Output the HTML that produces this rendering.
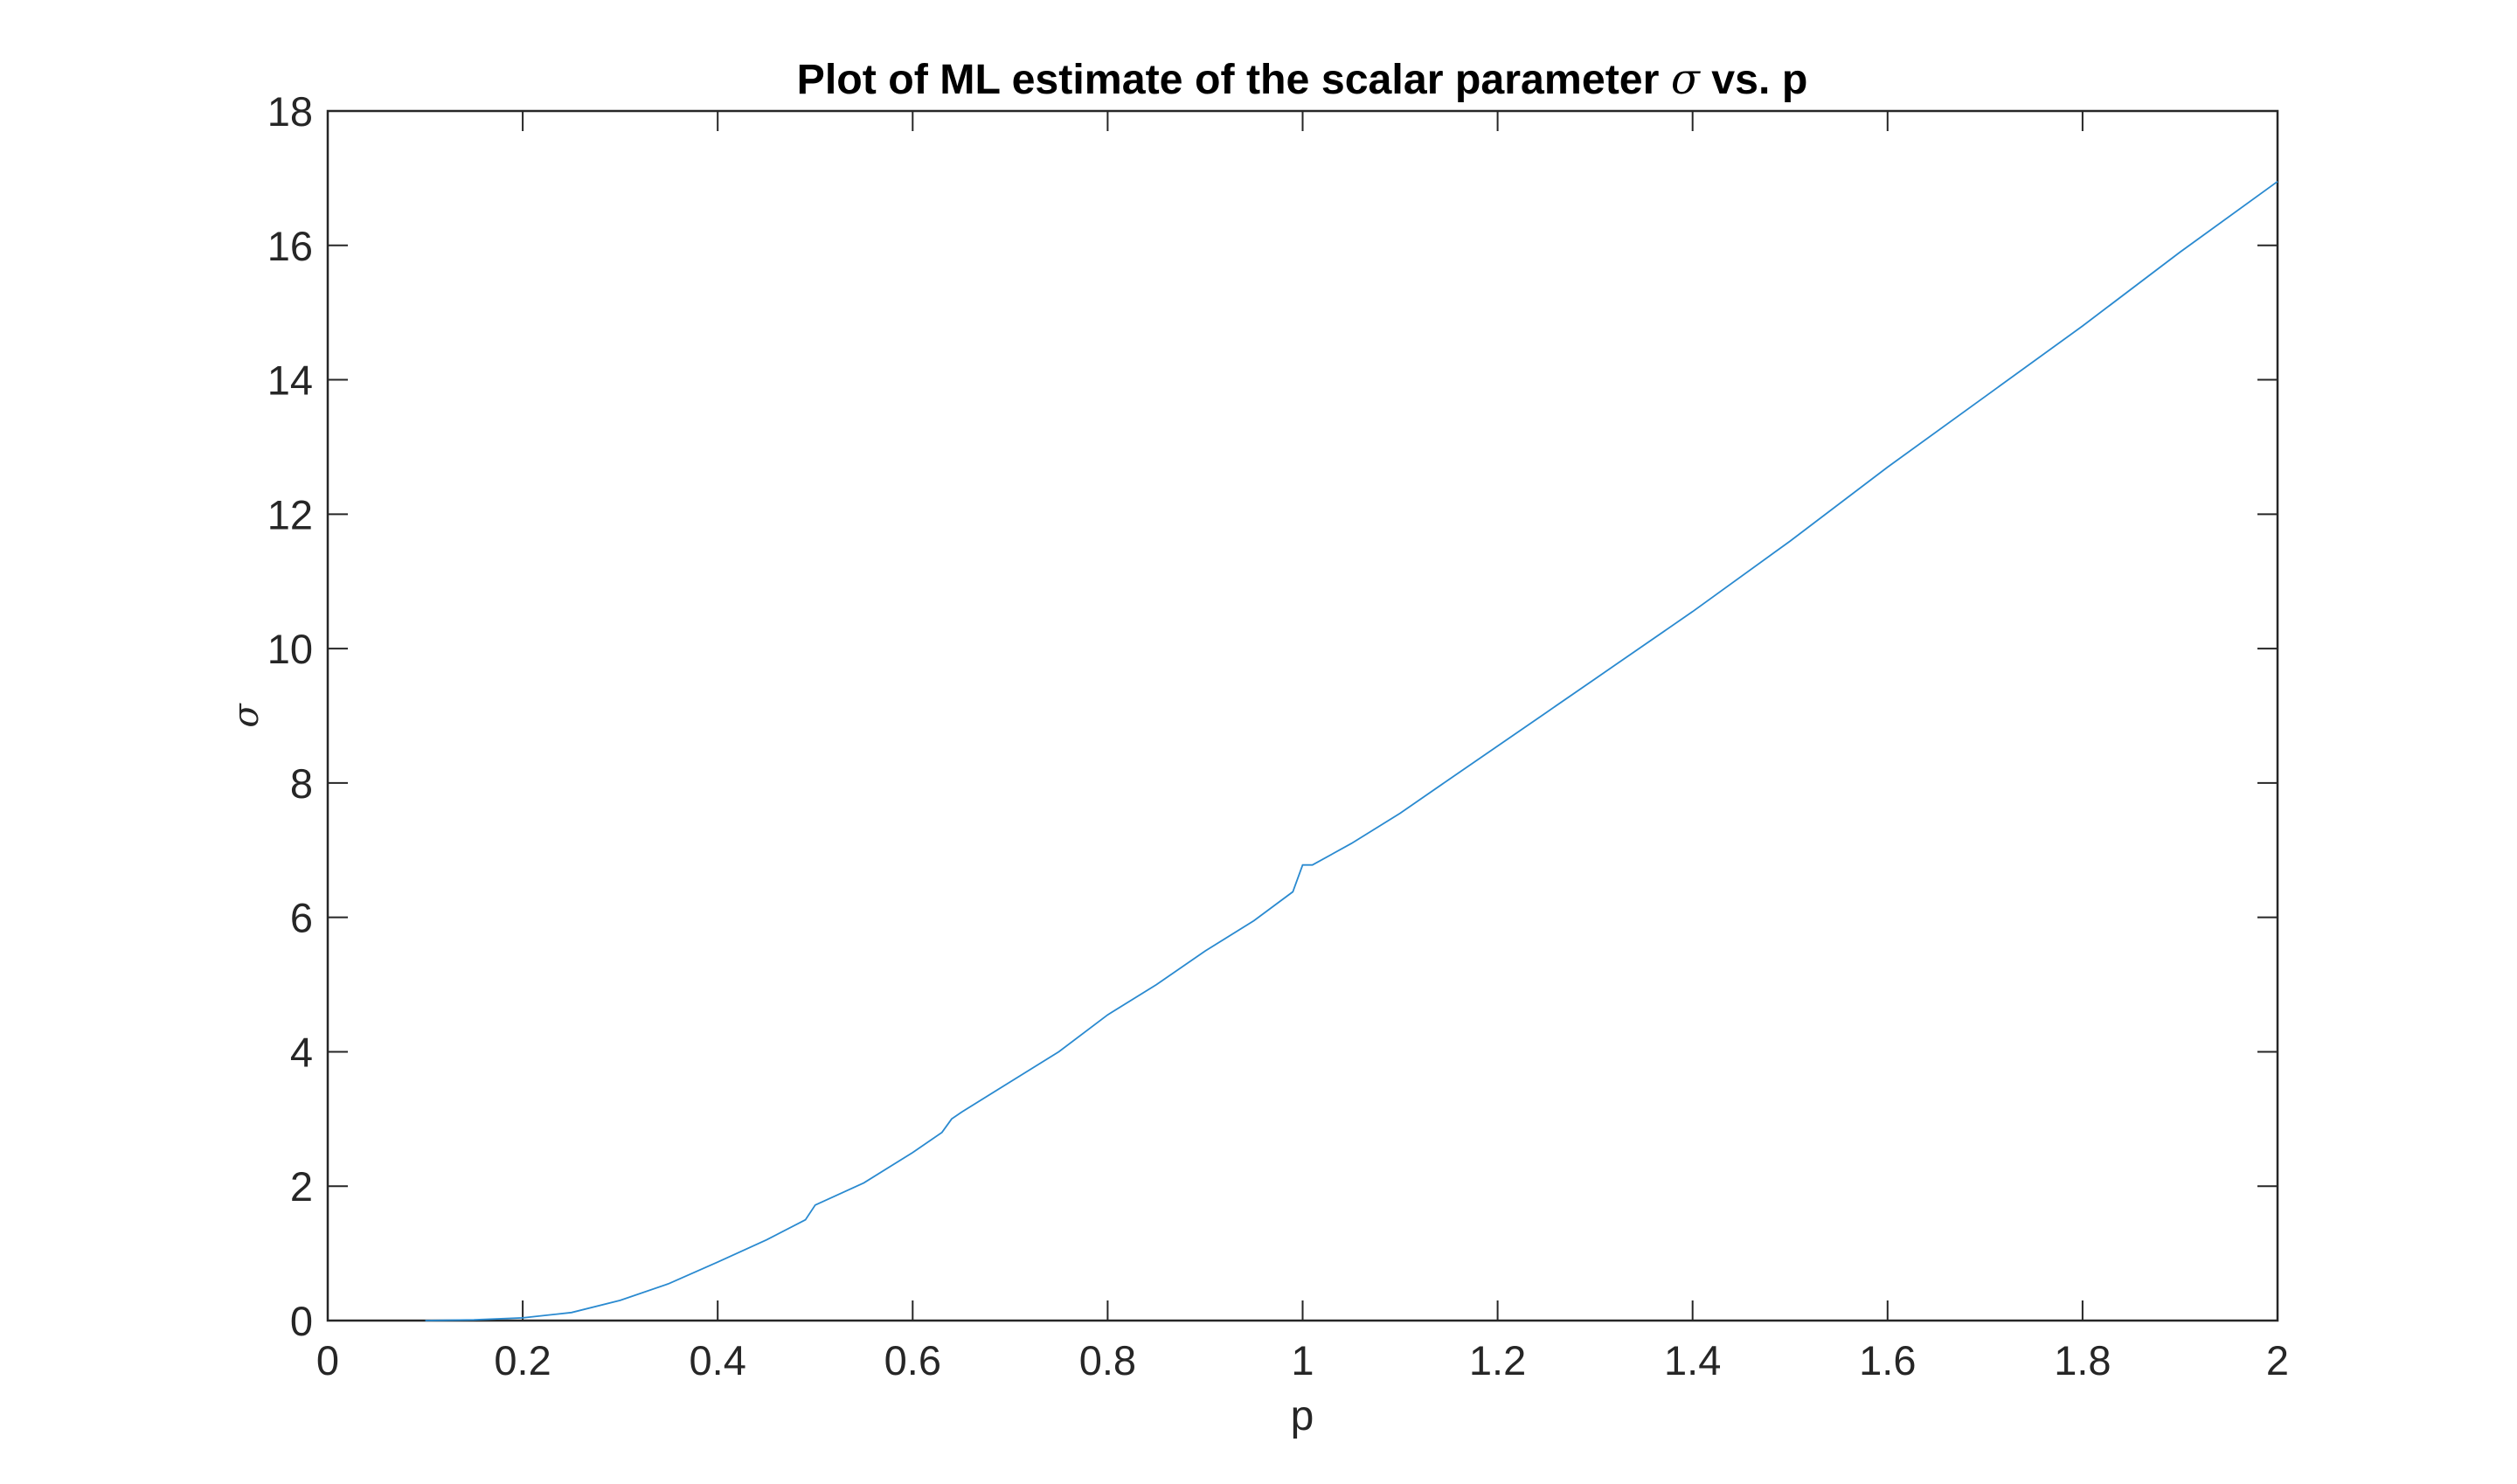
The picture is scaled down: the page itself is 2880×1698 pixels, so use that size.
<!DOCTYPE html>
<html><head><meta charset="utf-8"><style>
html,body{margin:0;padding:0;background:#fff;}
svg{display:block;font-family:"Liberation Sans",Helvetica,Arial,sans-serif;}
</style></head><body>
<svg id="chart" width="2880" height="1698" viewBox="0 0 2880 1698" xmlns="http://www.w3.org/2000/svg">
<rect width="2880" height="1698" fill="#fff"/>
<text x="1490" y="107" text-anchor="middle" font-size="48.3" font-weight="bold" fill="#000">Plot of ML estimate of the scalar parameter <tspan font-style="italic" font-family="'DejaVu Serif',serif" font-weight="normal">σ</tspan> vs. p</text>
<text x="1490" y="1636" text-anchor="middle" font-size="48" fill="#262626">p</text>
<text transform="translate(295,819) rotate(-90)" text-anchor="middle" font-size="40" font-style="italic" font-family="'DejaVu Serif',serif" fill="#262626">σ</text>
<g id="axes"></g>
</svg>
<script>
const pValues=[0.1,0.15,0.2,0.25,0.3,0.35,0.4,0.45,0.49,0.5,0.55,0.6,0.63,0.64,0.65,0.7,0.75,0.8,0.85,0.9,0.95,0.99,1.0,1.01,1.05,1.1,1.15,1.2,1.25,1.3,1.4,1.5,1.6,1.7,1.8,1.9,2.0];
const sigmaValues=[0,0.01,0.04,0.12,0.3,0.55,0.87,1.2,1.5,1.72,2.05,2.5,2.8,3.0,3.1,3.55,4.0,4.55,5.0,5.5,5.95,6.38,6.78,6.78,7.1,7.55,8.05,8.55,9.05,9.55,10.55,11.6,12.7,13.75,14.8,15.9,16.95];
const xTicks=[0,0.2,0.4,0.6,0.8,1,1.2,1.4,1.6,1.8,2];
const xTickLabels=["0","0.2","0.4","0.6","0.8","1","1.2","1.4","1.6","1.8","2"];
const yTicks=[0,2,4,6,8,10,12,14,16,18];
const yTickLabels=["0","2","4","6","8","10","12","14","16","18"];

const L=375,R=2606,T=127,B=1511,xMin=0,xMax=2,yMin=0,yMax=18;
const xs=v=>L+(v-xMin)/(xMax-xMin)*(R-L);
const ys=v=>B-(v-yMin)/(yMax-yMin)*(B-T);
const NS="http://www.w3.org/2000/svg";
const g=document.getElementById('axes');
function mk(tag,attrs){const e=document.createElementNS(NS,tag);for(const k in attrs)e.setAttribute(k,attrs[k]);g.appendChild(e);return e;}
const TL=23;
xTicks.forEach((v,i)=>{
  const x=xs(v);
  const t1=mk('line',{x1:x,x2:x,y1:B,y2:B-TL,stroke:'#262626','stroke-width':2});
  
  
  const t2=mk('line',{x1:x,x2:x,y1:T,y2:T+TL,stroke:'#262626','stroke-width':2});
  
  
  const tx=mk('text',{x:x,y:B+62,'text-anchor':'middle','font-size':47,fill:'#262626'});
  tx.textContent=xTickLabels[i];
  
  
});
yTicks.forEach((v,i)=>{
  const y=ys(v);
  const t1=mk('line',{x1:L,x2:L+TL,y1:y,y2:y,stroke:'#262626','stroke-width':2});
  
  
  const t2=mk('line',{x1:R,x2:R-TL,y1:y,y2:y,stroke:'#262626','stroke-width':2});
  
  
  const tx=mk('text',{x:L-17,y:y+17,'text-anchor':'end','font-size':47,fill:'#262626'});
  tx.textContent=yTickLabels[i];
  
  
});
const box=mk('rect',{x:L,y:T,width:R-L,height:B-T,fill:'none',stroke:'#262626','stroke-width':2.5});


const pts=pValues.map((p,i)=>xs(p).toFixed(1)+','+ys(sigmaValues[i]).toFixed(1)).join(' ');
const line=mk('polyline',{points:pts,fill:'none',stroke:'#2a8ad0','stroke-width':1.8});


</script>
</body></html>
